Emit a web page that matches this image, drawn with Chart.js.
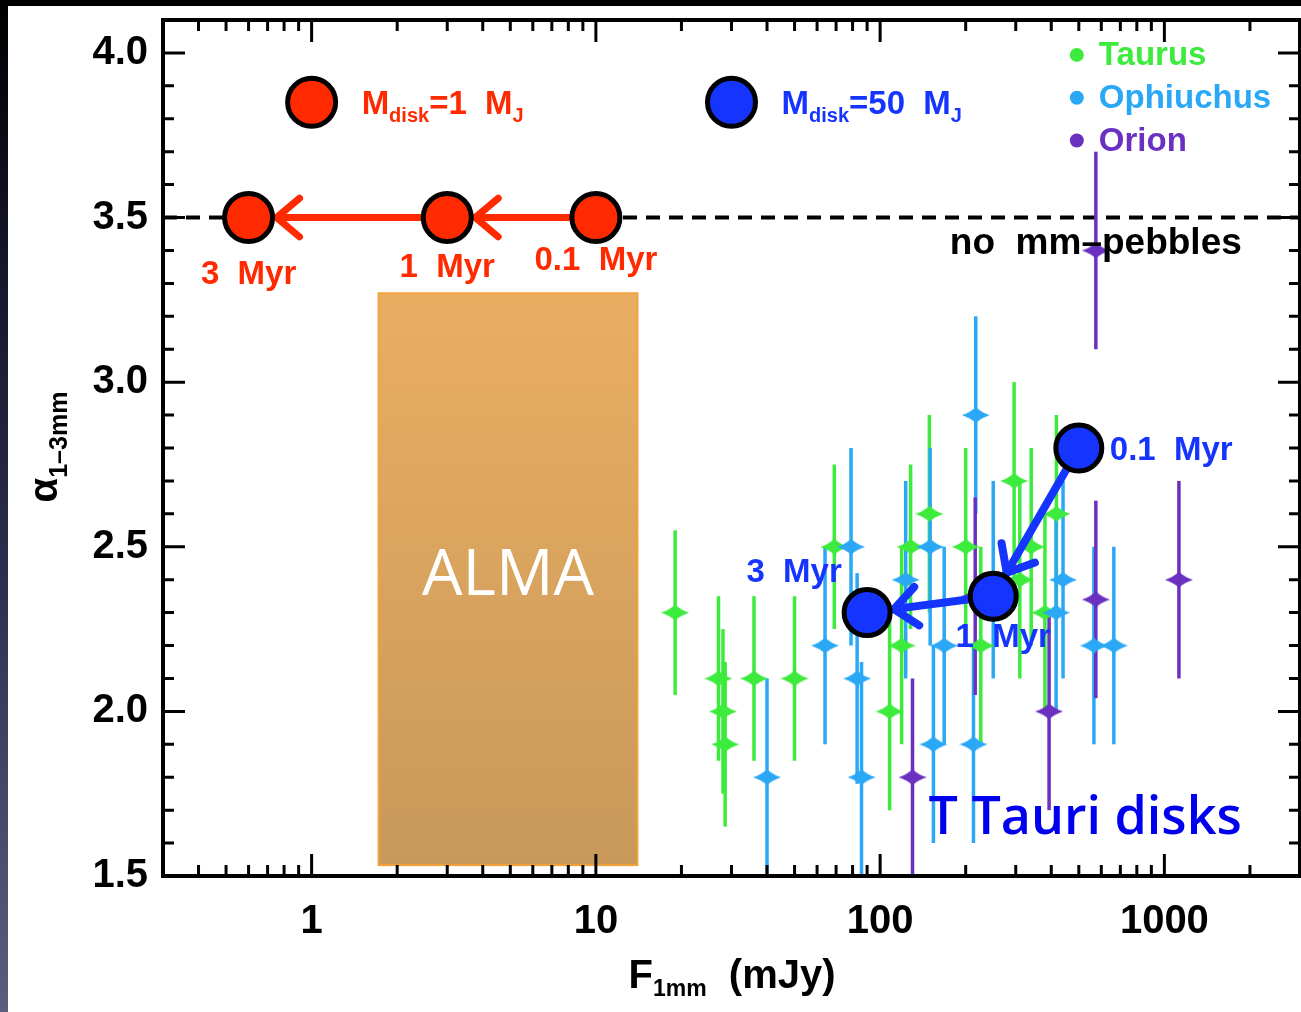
<!DOCTYPE html>
<html>
<head>
<meta charset="utf-8">
<script src="https://cdn.jsdelivr.net/npm/chart.js@4.4.1/dist/chart.umd.min.js"></script>
<style>
  html, body { margin: 0; padding: 0; }
  body { width: 1301px; height: 1012px; background: #fff; position: relative; overflow: hidden; }
  canvas { position: absolute; left: 0; top: 0; }
  #topbar { position: absolute; left: 0; top: 0; width: 1301px; height: 6px; background: #000; }
  #leftbar { position: absolute; left: 0; top: 0; width: 8px; height: 1012px;
    background: linear-gradient(#000 0%, #14142a 25%, #2c2c4c 55%, #454a68 80%, #585e7c 100%); }
</style>
</head>
<body>
<canvas id="alphaChart" width="1301" height="1012"></canvas>
<div id="topbar"></div>
<div id="leftbar"></div>
<script>
// axis ranges and tick labels
const xRange = [0.3, 3000];
const yRange = [1.5, 4.1];
const xTickValues = [1, 10, 100, 1000];
const yTickValues = [1.5, 2.0, 2.5, 3.0, 3.5, 4.0];

// observed disks: F_1mm (mJy), alpha, error
const taurusFlux  = [19, 27, 28, 28.5, 36, 50, 69, 108, 119, 128, 149, 200, 226, 296, 310, 340, 380, 417];
const taurusAlpha = [2.3, 2.1, 2.0, 1.9, 2.1, 2.1, 2.5, 2.0, 2.2, 2.5, 2.6, 2.5, 2.2, 2.7, 2.4, 2.5, 2.3, 2.6];
const taurusErr   = [0.25, 0.25, 0.25, 0.25, 0.25, 0.25, 0.25, 0.3, 0.3, 0.25, 0.3, 0.3, 0.3, 0.3, 0.3, 0.3, 0.3, 0.3];

const ophFlux  = [40, 64, 79, 83, 86, 123, 150, 154, 168, 217, 213, 250, 416, 440, 565, 664];
const ophAlpha = [1.8, 2.2, 2.5, 2.1, 1.8, 2.4, 2.5, 1.9, 2.2, 2.9, 1.9, 2.4, 2.3, 2.4, 2.2, 2.2];
const ophErr   = [0.3, 0.3, 0.3, 0.32, 0.35, 0.3, 0.3, 0.3, 0.3, 0.3, 0.3, 0.3, 0.3, 0.3, 0.3, 0.3];

const orionFlux  = [130, 216, 393, 574, 574, 1125];
const orionAlpha = [1.8, 2.35, 2.0, 3.4, 2.34, 2.4];
const orionErr   = [0.3, 0.3, 0.3, 0.3, 0.3, 0.3];

// models: 3 Myr, 1 Myr, 0.1 Myr
const modelAges  = ['3 Myr', '1 Myr', '0.1 Myr'];
const lowMassFlux  = [0.6, 3, 10];
const lowMassAlpha = [3.5, 3.5, 3.5];
const highMassFlux  = [90, 250, 500];
const highMassAlpha = [2.3, 2.35, 2.8];

// model key symbols
const keyFlux  = [1, 30];
const keyAlpha = [3.85, 3.85];

// ALMA box and reference line
const almaFlux  = [1.72, 14];
const almaAlpha = [1.533, 3.27];
const noPebbleAlpha = 3.5;

const RED = '#ff2a00', BLUE = '#1535ff';
const GREEN = '#3ceb3c', SKY = '#2aa8f5', PURPLE = '#6a30c0';
const FONT = '"Liberation Sans", Arial, sans-serif';

function starMarker(color) {
  const c = document.createElement('canvas');
  c.width = 28; c.height = 16;
  const g = c.getContext('2d');
  g.fillStyle = color;
  g.beginPath();
  g.moveTo(0, 8);
  g.quadraticCurveTo(9, 5, 14, 0);
  g.quadraticCurveTo(19, 5, 28, 8);
  g.quadraticCurveTo(19, 11, 14, 16);
  g.quadraticCurveTo(9, 11, 0, 8);
  g.fill();
  return c;
}

const groups = [
  { label: 'Taurus', flux: taurusFlux, alpha: taurusAlpha, err: taurusErr, color: GREEN },
  { label: 'Ophiuchus', flux: ophFlux, alpha: ophAlpha, err: ophErr, color: SKY },
  { label: 'Orion', flux: orionFlux, alpha: orionAlpha, err: orionErr, color: PURPLE }
];

const pts = (xs, ys) => xs.map((x, i) => ({ x: x, y: ys[i] }));

function textParts(ctx, parts, x, y, align, color) {
  ctx.fillStyle = color;
  ctx.textBaseline = 'alphabetic';
  ctx.textAlign = 'left';
  let w = 0;
  parts.forEach(p => { ctx.font = 'bold ' + p.s + 'px ' + FONT; w += ctx.measureText(p.t).width; });
  let cx = align === 'center' ? x - w / 2 : align === 'right' ? x - w : x;
  parts.forEach(p => {
    ctx.font = 'bold ' + p.s + 'px ' + FONT;
    ctx.fillText(p.t, cx, y + (p.dy || 0));
    cx += ctx.measureText(p.t).width;
  });
}

function arrow(ctx, x1, y1, x2, y2, r1, r2, color, w) {
  const dx = x2 - x1, dy = y2 - y1, L = Math.hypot(dx, dy);
  const ux = dx / L, uy = dy / L;
  const sx = x1 + ux * r1, sy = y1 + uy * r1;
  const ex = x2 - ux * r2, ey = y2 - uy * r2;
  ctx.strokeStyle = color;
  ctx.lineWidth = w;
  ctx.lineCap = 'round';
  ctx.beginPath(); ctx.moveTo(sx, sy); ctx.lineTo(ex, ey); ctx.stroke();
  const a = 40 * Math.PI / 180, len = 30;
  [a, -a].forEach(t => {
    const bx = -ux, by = -uy;
    const hx = bx * Math.cos(t) - by * Math.sin(t);
    const hy = bx * Math.sin(t) + by * Math.cos(t);
    ctx.beginPath(); ctx.moveTo(ex, ey); ctx.lineTo(ex + hx * len, ey + hy * len); ctx.stroke();
  });
}

const decor = {
  id: 'decor',
  beforeDatasetsDraw(chart) {
    const { ctx, chartArea: a, scales: { x, y } } = chart;
    ctx.save();
    ctx.beginPath(); ctx.rect(a.left, a.top, a.right - a.left, a.bottom - a.top); ctx.clip();

    // ALMA band
    const bx0 = x.getPixelForValue(almaFlux[0]), bx1 = x.getPixelForValue(almaFlux[1]);
    const by0 = y.getPixelForValue(almaAlpha[1]), by1 = y.getPixelForValue(almaAlpha[0]);
    const grad = ctx.createLinearGradient(0, by0, 0, by1);
    grad.addColorStop(0, '#e9ae62');
    grad.addColorStop(1, '#c8995a');
    ctx.fillStyle = grad;
    ctx.fillRect(bx0, by0, bx1 - bx0, by1 - by0);
    ctx.strokeStyle = '#f2a23a'; ctx.lineWidth = 2;
    ctx.strokeRect(bx0, by0, bx1 - bx0, by1 - by0);
    ctx.fillStyle = '#fff';
    ctx.font = '64px "Open Sans", sans-serif';
    ctx.textAlign = 'center'; ctx.textBaseline = 'middle';
    ctx.fillText('ALMA', (bx0 + bx1) / 2, (by0 + by1) / 2 - 2);

    // no-pebble line
    const yl = y.getPixelForValue(noPebbleAlpha);
    ctx.setLineDash([14, 9]); ctx.lineWidth = 4; ctx.strokeStyle = '#000';
    ctx.beginPath(); ctx.moveTo(a.left, yl); ctx.lineTo(a.right, yl); ctx.stroke();
    ctx.setLineDash([]);

    // error bars
    ctx.lineWidth = 3.5;
    groups.forEach(g => {
      ctx.strokeStyle = g.color;
      g.flux.forEach((f, i) => {
        const px = x.getPixelForValue(f);
        ctx.beginPath();
        ctx.moveTo(px, y.getPixelForValue(g.alpha[i] - g.err[i]));
        ctx.lineTo(px, y.getPixelForValue(g.alpha[i] + g.err[i]));
        ctx.stroke();
      });
    });
    ctx.restore();
  },
  beforeDatasetDraw(chart, args) {
    const ds = chart.data.datasets[args.index];
    if (ds.label !== 'Mdisk = 50 MJ') return;
    const { ctx, scales: { x, y } } = chart;
    ctx.save();
    for (let i = 2; i > 0; i--) {
      arrow(ctx, x.getPixelForValue(lowMassFlux[i]), y.getPixelForValue(lowMassAlpha[i]),
        x.getPixelForValue(lowMassFlux[i - 1]), y.getPixelForValue(lowMassAlpha[i - 1]), 24, 28, RED, 7);
      arrow(ctx, x.getPixelForValue(highMassFlux[i]), y.getPixelForValue(highMassAlpha[i]),
        x.getPixelForValue(highMassFlux[i - 1]), y.getPixelForValue(highMassAlpha[i - 1]), 22, 27, BLUE, 8);
    }
    ctx.restore();
  },
  afterDatasetsDraw(chart) {
    const { ctx, chartArea: a, scales: { x, y } } = chart;
    ctx.save();
    // frame
    ctx.strokeStyle = '#000'; ctx.lineWidth = 4; ctx.lineCap = 'square';
    ctx.strokeRect(a.left, a.top, a.right - a.left, a.bottom - a.top);
    ctx.lineWidth = 3; ctx.lineCap = 'butt';
    // y ticks
    for (let k = 15; k <= 41; k++) {
      const v = k / 10, py = y.getPixelForValue(v);
      const len = k % 5 === 0 ? 22 : 11;
      ctx.beginPath();
      ctx.moveTo(a.left, py); ctx.lineTo(a.left + len, py);
      ctx.moveTo(a.right, py); ctx.lineTo(a.right - len, py);
      ctx.stroke();
    }
    // x ticks
    for (let e = -1; e <= 3; e++) {
      for (let m = 1; m <= 9; m++) {
        const v = m * Math.pow(10, e);
        if (v < xRange[0] - 1e-9 || v > xRange[1] + 1e-9) continue;
        const px = x.getPixelForValue(v);
        const len = m === 1 ? 22 : 11;
        ctx.beginPath();
        ctx.moveTo(px, a.bottom); ctx.lineTo(px, a.bottom - len);
        ctx.moveTo(px, a.top); ctx.lineTo(px, a.top + len);
        ctx.stroke();
      }
    }

    // model age labels
    const lowOffsets = [[0, 54], [0, 47], [0, 40]];
    modelAges.forEach((t, i) => {
      const px = x.getPixelForValue(lowMassFlux[i]) + lowOffsets[i][0];
      const py = y.getPixelForValue(lowMassAlpha[i]) + lowOffsets[i][1];
      textParts(ctx, [{ t: t.replace(' ', '  '), s: 33 }], px, py + 12, 'center', RED);
    });
    const highPos = [[-73, -43, 'center'], [10, 39, 'center'], [31, 0, 'left']];
    modelAges.forEach((t, i) => {
      const px = x.getPixelForValue(highMassFlux[i]) + highPos[i][0];
      const py = y.getPixelForValue(highMassAlpha[i]) + highPos[i][1];
      textParts(ctx, [{ t: t.replace(' ', '  '), s: 33 }], px, py + 12, highPos[i][2], BLUE);
    });

    // model key labels
    const kx0 = x.getPixelForValue(keyFlux[0]) + 50, ky = y.getPixelForValue(keyAlpha[0]) + 12;
    textParts(ctx, [{ t: 'M', s: 33 }, { t: 'disk', s: 20, dy: 8 }, { t: '=1  M', s: 33 }, { t: 'J', s: 20, dy: 8 }], kx0, ky, 'left', RED);
    const kx1 = x.getPixelForValue(keyFlux[1]) + 50;
    textParts(ctx, [{ t: 'M', s: 33 }, { t: 'disk', s: 20, dy: 8 }, { t: '=50  M', s: 33 }, { t: 'J', s: 20, dy: 8 }], kx1, ky, 'left', BLUE);

    // region legend
    const lx = x.getPixelForValue(492);
    [4.0, 3.87, 3.74].forEach((v, i) => {
      const py = y.getPixelForValue(v);
      ctx.fillStyle = groups[i].color;
      ctx.beginPath(); ctx.arc(lx, py + 2, 7, 0, Math.PI * 2); ctx.fill();
      textParts(ctx, [{ t: groups[i].label, s: 33 }], lx + 22, py + 12, 'left', groups[i].color);
    });

    // no mm-pebbles
    textParts(ctx, [{ t: 'no  mm\u2013pebbles', s: 37 }], x.getPixelForValue(1872), y.getPixelForValue(3.43) + 13, 'right', '#000');

    // T Tauri disks
    ctx.fillStyle = '#0000ee';
    ctx.font = '600 52px "Open Sans", sans-serif';
    ctx.textAlign = 'right'; ctx.textBaseline = 'alphabetic';
    ctx.fillText('T Tauri disks', x.getPixelForValue(1872), y.getPixelForValue(1.628));
    ctx.restore();
  },
  afterDraw(chart) {
    const { ctx } = chart;
    ctx.save();
    // x title
    textParts(ctx, [{ t: 'F', s: 40 }, { t: '1mm', s: 23, dy: 8 }, { t: '  (mJy)', s: 40 }], 732, 988, 'center', '#000');
    // y title
    ctx.rotate(-Math.PI / 2);
    textParts(ctx, [{ t: '\u03b1', s: 40 }, { t: '1\u20133mm', s: 25, dy: 10 }], -447, 57, 'center', '#000');
    ctx.restore();
  }
};

const noEdgePad = s => { s.paddingTop = 0; s.paddingBottom = 0; s.paddingLeft = 0; s.paddingRight = 0; };

const ctx = document.getElementById('alphaChart').getContext('2d');
new Chart(ctx, {
  type: 'scatter',
  data: {
    datasets: [
      { label: 'model key', data: pts(keyFlux, keyAlpha), backgroundColor: [RED, BLUE],
        borderColor: '#000', borderWidth: 5, pointRadius: 24 },
      { label: 'Mdisk = 1 MJ', data: pts(lowMassFlux, lowMassAlpha), backgroundColor: RED,
        borderColor: '#000', borderWidth: 5, pointRadius: 24 },
      { label: 'Mdisk = 50 MJ', data: pts(highMassFlux, highMassAlpha), backgroundColor: BLUE,
        borderColor: '#000', borderWidth: 5, pointRadius: 23 },
      ...groups.slice().reverse().map(g => ({
        label: g.label, data: pts(g.flux, g.alpha), pointStyle: starMarker(g.color),
        backgroundColor: g.color, borderColor: g.color
      }))
    ]
  },
  options: {
    responsive: false,
    devicePixelRatio: 1,
    animation: false,
    layout: { autoPadding: false, padding: { left: 0, top: 20, right: 1, bottom: 0 } },
    plugins: { legend: { display: false }, tooltip: { enabled: false } },
    scales: {
      x: {
        type: 'logarithmic', min: xRange[0], max: xRange[1],
        grid: { display: false, drawTicks: false }, border: { display: false },
        afterBuildTicks: s => { s.ticks = xTickValues.map(v => ({ value: v })); },
        afterFit: s => { s.height = 136; noEdgePad(s); },
        ticks: { color: '#000', padding: 22, maxRotation: 0, autoSkip: false,
          font: { family: FONT, weight: 'bold', size: 40 }, callback: v => String(v) }
      },
      y: {
        type: 'linear', min: yRange[0], max: yRange[1],
        grid: { display: false, drawTicks: false }, border: { display: false },
        afterBuildTicks: s => { s.ticks = yTickValues.map(v => ({ value: v })); },
        afterFit: s => { s.width = 163; noEdgePad(s); },
        ticks: { color: '#000', padding: 15, autoSkip: false,
          font: { family: FONT, weight: 'bold', size: 40 }, callback: v => Number(v).toFixed(1) }
      }
    }
  },
  plugins: [decor]
});
</script>
</body>
</html>
